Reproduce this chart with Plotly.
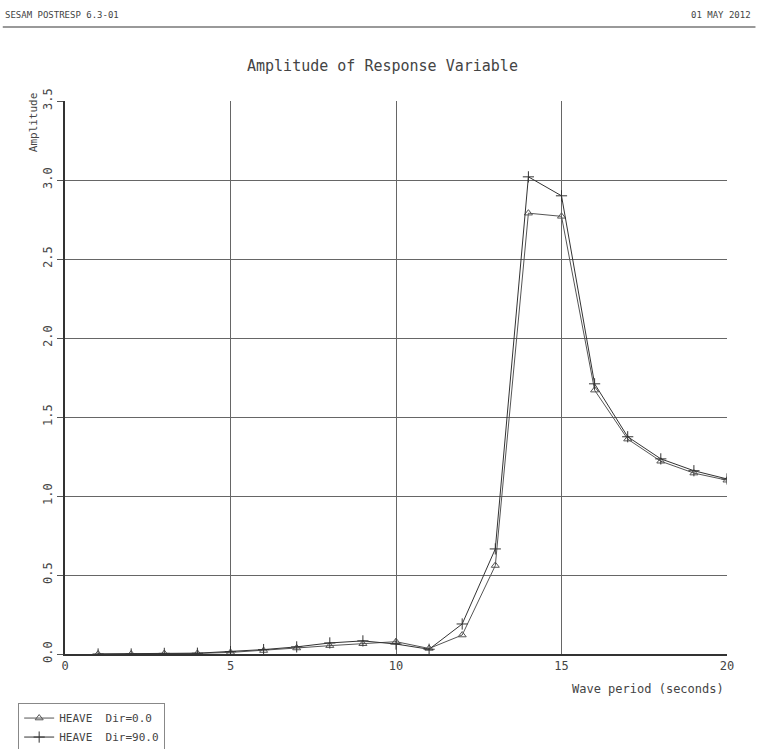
import plotly.graph_objects as go

periods = list(range(1, 21))
heave_dir0 = [0.0, 0.0, 0.003, 0.004, 0.01, 0.022, 0.038, 0.053, 0.065, 0.078, 0.035,
              0.12, 0.56, 2.79, 2.77, 1.67, 1.36, 1.22, 1.145, 1.10]
heave_dir90 = [0.0, 0.0, 0.004, 0.005, 0.015, 0.028, 0.045, 0.07, 0.083, 0.063, 0.03,
               0.19, 0.665, 3.02, 2.90, 1.71, 1.375, 1.235, 1.16, 1.108]
series_names = ["HEAVE  Dir=0.0", "HEAVE  Dir=90.0"]
x_ticks = [0, 5, 10, 15, 20]
y_ticks = [0.0, 0.5, 1.0, 1.5, 2.0, 2.5, 3.0, 3.5]

FONT = "DejaVu Sans Mono"
TXT = "#444444"
LINE = "#555555"

fig = go.Figure()
fig.add_trace(go.Scatter(
    x=periods, y=heave_dir0, name=series_names[0], mode="lines+markers",
    line=dict(color=LINE, width=1),
    marker=dict(symbol="triangle-up-open", size=7, color=LINE, line=dict(width=1, color=LINE)),
))
fig.add_trace(go.Scatter(
    x=periods, y=heave_dir90, name=series_names[1], mode="lines+markers",
    line=dict(color="#333333", width=1),
    marker=dict(symbol="cross-thin-open", size=8, color="#333333", line=dict(width=1, color="#333333")),
))

fig.update_layout(
    width=757, height=749,
    margin=dict(l=65, r=30, t=101, b=95, autoexpand=False),
    paper_bgcolor="white", plot_bgcolor="white",
    font=dict(family=FONT, color=TXT, size=11),
    showlegend=True,
    legend=dict(
        xref="container", yref="container", x=0.024, y=0.062,
        xanchor="left", yanchor="top",
        bordercolor="#888888", borderwidth=1, bgcolor="white",
        font=dict(family=FONT, size=11, color=TXT),
        tracegroupgap=0, itemwidth=30,
    ),
    xaxis=dict(
        range=[0, 20], tickvals=x_ticks, ticktext=[str(v) for v in x_ticks],
        showgrid=True, gridcolor="#666666", gridwidth=1,
        showline=True, linecolor="#333333", linewidth=1.5,
        zeroline=False, ticks="", tickfont=dict(size=12, color=TXT, family=FONT),
        automargin=False,
    ),
    yaxis=dict(
        range=[0, 3.5], tickvals=y_ticks, ticktext=[f"{v:.1f}" for v in y_ticks],
        showgrid=True, gridcolor="#666666", gridwidth=1,
        showline=True, linecolor="#333333", linewidth=1.5,
        zeroline=False, ticks="outside", ticklen=6, tickcolor="#555555",
        tickangle=-90, tickfont=dict(size=12, color=TXT, family=FONT),
        automargin=False,
    ),
    annotations=[
        dict(text="Amplitude of Response Variable", xref="paper", yref="paper",
             x=0.48, y=1.063, xanchor="center", yanchor="middle", showarrow=False,
             font=dict(size=15, color=TXT, family=FONT)),
        dict(text="Amplitude", xref="paper", yref="paper", x=-0.048, y=0.962,
             xanchor="center", yanchor="middle", textangle=-90, showarrow=False,
             font=dict(size=11, color=TXT, family=FONT)),
        dict(text="Wave period (seconds)", xref="paper", yref="paper", x=0.881, y=-0.063,
             xanchor="center", yanchor="middle", showarrow=False,
             font=dict(size=12, color=TXT, family=FONT)),
        dict(text="SESAM POSTRESP 6.3-01", xref="paper", yref="paper",
             x=-0.094, y=1.155, xanchor="left", yanchor="middle", showarrow=False,
             font=dict(size=9, color=TXT, family=FONT)),
        dict(text="01 MAY 2012", xref="paper", yref="paper",
             x=1.04, y=1.155, xanchor="right", yanchor="middle", showarrow=False,
             font=dict(size=9, color=TXT, family=FONT)),
    ],
    shapes=[
        dict(type="line", xref="paper", yref="paper", x0=-0.094, x1=1.043,
             y0=1.134, y1=1.134, line=dict(color="#999999", width=2)),
    ],
)

fig.write_html("out.html")
